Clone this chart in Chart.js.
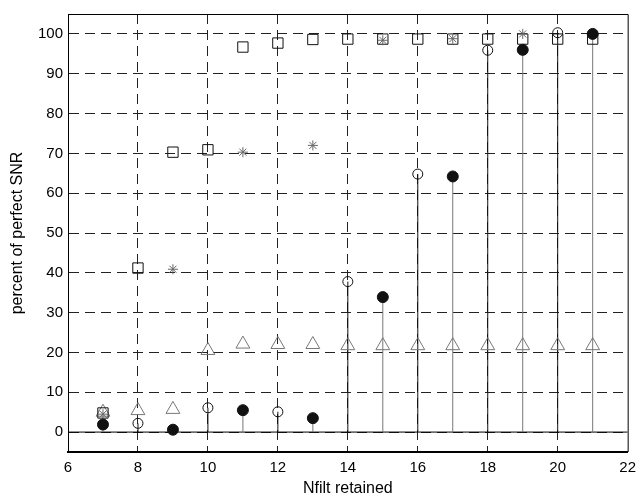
<!DOCTYPE html>
<html>
<head>
<meta charset="utf-8">
<script src="https://cdn.jsdelivr.net/npm/chart.js@4"></script>
<style>
  html, body { margin: 0; padding: 0; background: #fff; }
  #wrap { width: 643px; height: 500px; }
</style>
</head>
<body>
<div id="wrap"><canvas id="snrChart" width="643" height="500"></canvas></div>
<script>
// values
const squareX = [7, 8, 9, 10, 11, 12, 13, 14, 15, 16, 17, 18, 19, 20, 21];
const squareY = [4.8, 41.2, 70.3, 70.9, 96.7, 97.7, 98.6, 98.7, 98.7, 98.7, 98.7, 98.7, 98.7, 98.7, 98.7];

const starX = [7, 9, 11, 13, 15, 17, 19, 21];
const starY = [4.5, 40.9, 70.3, 72.0, 98.4, 98.8, 100, 100];

const triX = [7, 8, 9, 10, 11, 12, 13, 14, 15, 16, 17, 18, 19, 20, 21];
const triY = [5.0, 5.4, 5.7, 20.5, 22.1, 22.0, 22.0, 21.7, 21.7, 21.7, 21.7, 21.7, 21.7, 21.7, 21.7];

const circX = [8, 10, 12, 14, 16, 18, 20];
const circY = [2.2, 6.1, 5.1, 37.8, 64.8, 95.9, 100.3];

const dotX = [7, 9, 11, 13, 15, 17, 19, 21];
const dotY = [1.9, 0.6, 5.5, 3.5, 33.9, 64.2, 96.0, 100];

const xTicks = [6, 8, 10, 12, 14, 16, 18, 20, 22];
const yTicks = [0, 10, 20, 30, 40, 50, 60, 70, 80, 90, 100];

function pts(xs, ys) {
    return xs.map((x, i) => ({ x: x, y: ys[i] }));
}

// stem lines: from zero up to each value, broken with nulls
function stems(xs, ys) {
    const out = [];
    xs.forEach((x, i) => {
        out.push({ x: x, y: 0 });
        out.push({ x: x, y: ys[i] });
        out.push({ x: x, y: null });
    });
    return out;
}

const FONT = "'Liberation Sans', Arial, Helvetica, sans-serif";

// box around the axes (top and right sides)
const boxPlugin = {
    id: 'box',
    afterDraw(chart) {
        const a = chart.chartArea;
        const ctx = chart.ctx;
        ctx.save();
        ctx.strokeStyle = '#000';
        ctx.lineWidth = 1;
        ctx.beginPath();
        ctx.moveTo(a.left, a.top + 0.5);
        ctx.lineTo(a.right + 0.5, a.top + 0.5);
        ctx.lineTo(a.right + 0.5, a.bottom);
        ctx.stroke();
        ctx.restore();
    }
};

const ctx = document.getElementById('snrChart').getContext('2d');
new Chart(ctx, {
    type: 'scatter',
    data: {
        datasets: [
            {
                label: 'dot',
                data: pts(dotX, dotY),
                pointStyle: 'circle',
                pointRadius: 5.5,
                backgroundColor: '#111',
                borderColor: '#111',
                borderWidth: 1
            },
            {
                label: 'circle',
                data: pts(circX, circY),
                pointStyle: 'circle',
                pointRadius: 5,
                backgroundColor: 'rgba(0,0,0,0)',
                borderColor: '#111',
                borderWidth: 1
            },
            {
                label: 'star',
                data: pts(starX, starY),
                pointStyle: 'star',
                pointRadius: 5,
                backgroundColor: 'rgba(0,0,0,0)',
                borderColor: '#666',
                borderWidth: 1
            },
            {
                label: 'square',
                data: pts(squareX, squareY),
                pointStyle: 'rect',
                pointRadius: 7.3,
                backgroundColor: 'rgba(0,0,0,0)',
                borderColor: '#111',
                borderWidth: 1
            },
            {
                label: 'triangle',
                data: pts(triX, triY),
                pointStyle: 'triangle',
                pointRadius: 8,
                backgroundColor: 'rgba(0,0,0,0)',
                borderColor: '#777',
                borderWidth: 1
            },
            {
                label: 'dot stems',
                data: stems(dotX, dotY),
                showLine: true,
                spanGaps: false,
                pointRadius: 0,
                borderColor: '#777',
                borderWidth: 1
            },
            {
                label: 'circle stems',
                data: stems(circX, circY),
                showLine: true,
                spanGaps: false,
                pointRadius: 0,
                borderColor: '#111',
                borderWidth: 1
            },
            {
                label: 'baseline',
                data: [{ x: xTicks[0], y: 0 }, { x: xTicks[xTicks.length - 1], y: 0 }],
                showLine: true,
                pointRadius: 0,
                borderColor: '#000',
                borderWidth: 1
            }
        ]
    },
    options: {
        responsive: false,
        animation: false,
        layout: { padding: { left: 0, top: 7, right: 11, bottom: 0 } },
        plugins: {
            legend: { display: false },
            tooltip: { enabled: false }
        },
        scales: {
            x: {
                type: 'linear',
                min: 6,
                max: 22,
                afterBuildTicks: (s) => { s.ticks = xTicks.map(v => ({ value: v })); },
                afterFit: (s) => { s.height = 48; },
                ticks: {
                    color: '#000',
                    padding: 7,
                    font: { family: FONT, size: 15 }
                },
                grid: {
                    color: (c) => (c.tick && (c.tick.value === 6 || c.tick.value === 22)) ? 'rgba(0,0,0,0)' : '#222',
                    drawTicks: false,
                    lineWidth: 1
                },
                border: { display: true, color: '#000', width: 2, dash: [10, 6] },
                title: {
                    display: true,
                    text: 'Nfilt retained',
                    color: '#000',
                    font: { family: FONT, size: 16 },
                    padding: { top: 0, bottom: 2 }
                }
            },
            y: {
                min: -5,
                max: 105,
                afterBuildTicks: (s) => { s.ticks = yTicks.map(v => ({ value: v })); },
                afterFit: (s) => { s.width = 68; },
                ticks: {
                    color: '#000',
                    padding: 5,
                    font: { family: FONT, size: 15 }
                },
                grid: {
                    color: '#222',
                    drawTicks: false,
                    lineWidth: 1
                },
                border: { display: true, color: '#000', width: 1, dash: [10, 6] },
                title: {
                    display: true,
                    text: 'percent of perfect SNR',
                    color: '#000',
                    font: { family: FONT, size: 16 },
                    padding: { top: 8, bottom: 0 }
                }
            }
        }
    },
    plugins: [boxPlugin]
});
</script>
</body>
</html>
